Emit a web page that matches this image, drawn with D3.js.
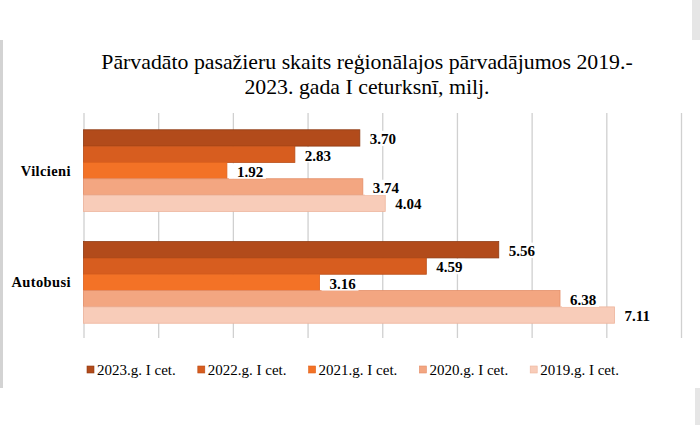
<!DOCTYPE html>
<html><head><meta charset="utf-8">
<script src="https://cdn.jsdelivr.net/npm/d3@7/dist/d3.min.js"></script>
<style>
html,body{margin:0;padding:0;background:#fff;}
svg{display:block;}
</style></head>
<body>
<svg id="chart" width="700" height="425"></svg>
<script>
const categories = ["Vilcieni", "Autobusi"];
const seriesNames = ["2023.g. I cet.", "2022.g. I cet.", "2021.g. I cet.", "2020.g. I cet.", "2019.g. I cet."];
const vilcieni = [3.70, 2.83, 1.92, 3.74, 4.04];
const autobusi = [5.56, 4.59, 3.16, 6.38, 7.11];
const xTicks = [0, 1, 2, 3, 4, 5, 6, 7, 8];
const titleLines = ["Pārvadāto pasažieru skaits reģionālajos pārvadājumos 2019.-", "2023. gada I ceturksnī, milj."];
const colors = ["#B24B1B", "#D75D1F", "#F37226", "#F3A681", "#F8CCB9"];
const strokes = ["#8E3A12", "#B84C16", "#E0621C", "#E48E68", "#EDB49C"];

const values = {Vilcieni: vilcieni, Autobusi: autobusi};
const svg = d3.select("#chart");
const serif = "'Liberation Serif','Times New Roman',serif";

// frame remnants
svg.append("rect").attr("x", 0).attr("y", 40).attr("width", 3).attr("height", 348).attr("fill", "#d3d3d3");
svg.append("rect").attr("x", 692).attr("y", 0).attr("width", 8).attr("height", 40).attr("fill", "#e6e6e6");
svg.append("rect").attr("x", 695).attr("y", 388).attr("width", 5).attr("height", 37).attr("fill", "#e6e6e6");

// title
svg.append("g").selectAll("text").data(titleLines).join("text")
  .attr("x", 367).attr("y", (d, i) => 69 + i * 25)
  .attr("text-anchor", "middle")
  .attr("font-family", serif).attr("font-size", 21.8).attr("fill", "#000")
  .text(d => d);

const x = d3.scaleLinear().domain([0, 8]).range([83.5, 681]);
const y0 = d3.scaleBand().domain(categories).range([113, 340]).paddingInner(0.27).paddingOuter(0.15);
const y1 = d3.scaleBand().domain(seriesNames).range([0, y0.bandwidth()]);

// gridlines
svg.append("g").attr("transform", "translate(0,113)")
  .call(d3.axisBottom(x).tickValues(xTicks).tickSize(225).tickFormat(""))
  .call(g => g.select(".domain").remove())
  .call(g => g.selectAll("line").attr("stroke", "#d0d0d0").attr("stroke-width", 1.3));

// bars
const groups = svg.append("g").selectAll("g").data(categories).join("g")
  .attr("transform", d => `translate(0,${y0(d)})`);

groups.selectAll("rect.bar").data(c => values[c].map((v, i) => ({v, i, s: seriesNames[i]}))).join("rect")
  .attr("class", "bar")
  .attr("x", x(0))
  .attr("y", d => y1(d.s))
  .attr("width", d => x(d.v) - x(0))
  .attr("height", y1.bandwidth())
  .attr("fill", d => colors[d.i])
  .attr("stroke", d => strokes[d.i]).attr("stroke-width", 0.8);

// labels with white boxes
const lab = groups.selectAll("g.lab").data(c => values[c].map((v, i) => ({v, i, s: seriesNames[i]}))).join("g")
  .attr("class", "lab");
lab.append("rect")
  .attr("x", d => x(d.v) + 2)
  .attr("y", d => y1(d.s) + 1)
  .attr("width", 37)
  .attr("height", y1.bandwidth() - 1)
  .attr("fill", "#fff");
lab.append("text")
  .attr("x", d => x(d.v) + 10)
  .attr("y", d => y1(d.s) + y1.bandwidth() / 2 + 1)
  .attr("dy", "0.35em")
  .attr("font-family", serif).attr("font-weight", "bold").attr("font-size", 15)
  .attr("fill", "#000")
  .text(d => d3.format(".2f")(d.v));

// category labels
svg.append("g").selectAll("text").data(categories).join("text")
  .attr("x", 71)
  .attr("y", d => y0(d) + y0.bandwidth() / 2)
  .attr("dy", "0.35em")
  .attr("text-anchor", "end")
  .attr("font-family", serif).attr("font-weight", "bold").attr("font-size", 14.5)
  .attr("letter-spacing", 0.4)
  .attr("fill", "#000")
  .text(d => d);

// legend
const leg = svg.append("g").selectAll("g").data(seriesNames).join("g")
  .attr("transform", (d, i) => `translate(${87 + i * 110.8},370)`);
leg.append("rect").attr("x", 0).attr("y", -4).attr("width", 7).attr("height", 7)
  .attr("fill", (d, i) => colors[i]).attr("stroke", (d, i) => strokes[i]).attr("stroke-width", 0.6);
leg.append("text").attr("x", 10).attr("y", 0).attr("dy", "0.35em")
  .attr("font-family", serif).attr("font-size", 15).attr("fill", "#000")
  .text(d => d);
</script>
</body></html>
